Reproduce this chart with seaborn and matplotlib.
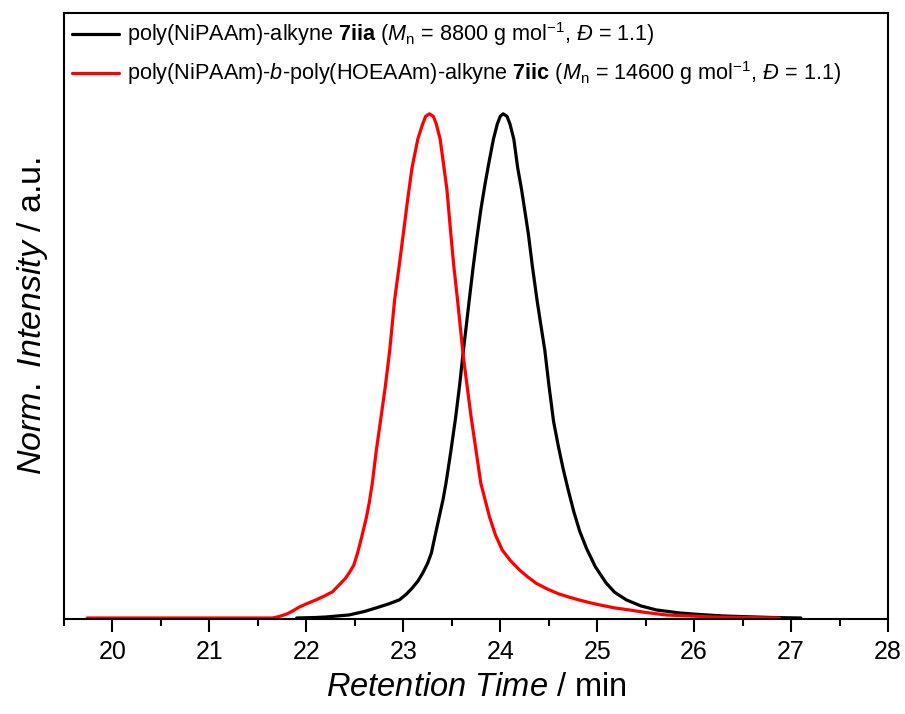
import numpy as np
import pandas as pd
import seaborn as sns
import matplotlib
matplotlib.use("Agg")
import matplotlib.pyplot as plt
from matplotlib.ticker import MultipleLocator

# SEC traces (retention time in min, normalised intensity)
black_time = [21.9, 22.1, 22.2, 22.44, 22.6, 22.72, 22.85, 22.96, 23.03, 23.09,
              23.15, 23.2, 23.25, 23.29, 23.33, 23.37, 23.41, 23.44, 23.49, 23.54,
              23.58, 23.62, 23.65, 23.68, 23.72, 23.76, 23.8, 23.84, 23.88, 23.93,
              23.97, 24.0, 24.03, 24.07, 24.1, 24.14, 24.18, 24.22, 24.29, 24.33,
              24.38, 24.42, 24.46, 24.5, 24.55, 24.6, 24.65, 24.7, 24.76, 24.82,
              24.89, 24.98, 25.09, 25.18, 25.3, 25.45, 25.61, 25.85, 26.05, 26.3,
              26.8, 27.1]
black_int = [0.0, 0.001, 0.002, 0.006, 0.013, 0.02, 0.028, 0.036, 0.047, 0.059,
             0.073, 0.089, 0.108, 0.129, 0.165, 0.2, 0.235, 0.267, 0.33, 0.398,
             0.46, 0.531, 0.58, 0.63, 0.695, 0.755, 0.81, 0.857, 0.9, 0.95,
             0.98, 0.995, 1.0, 0.995, 0.98, 0.95, 0.893, 0.85, 0.762, 0.7,
             0.63, 0.58, 0.531, 0.465, 0.39, 0.34, 0.295, 0.255, 0.21, 0.172,
             0.138, 0.102, 0.07, 0.051, 0.036, 0.024, 0.016, 0.01, 0.007, 0.004,
             0.001, 0.0]

red_time = [19.74, 21.0, 21.65, 21.72, 21.8, 21.86, 21.93, 22.0, 22.1, 22.18,
            22.27, 22.34, 22.4, 22.44, 22.49, 22.53, 22.57, 22.62, 22.65, 22.68,
            22.72, 22.77, 22.815, 22.86, 22.91, 22.955, 23.0, 23.045, 23.09, 23.15,
            23.2, 23.23, 23.27, 23.31, 23.34, 23.38, 23.42, 23.45, 23.49, 23.52,
            23.56, 23.62, 23.7, 23.8, 23.89, 23.95, 24.02, 24.1, 24.2, 24.28,
            24.37, 24.48, 24.6, 24.7, 24.81, 24.93, 25.05, 25.18, 25.33, 25.5,
            25.71, 25.95, 26.2, 26.88]
red_int = [0.0, 0.0, 0.0, 0.003, 0.008, 0.014, 0.022, 0.028, 0.036, 0.043,
           0.052, 0.066, 0.078, 0.089, 0.105, 0.13, 0.16, 0.2, 0.23, 0.267,
           0.33, 0.398, 0.46, 0.531, 0.63, 0.695, 0.762, 0.83, 0.893, 0.95,
           0.98, 0.995, 1.0, 0.995, 0.98, 0.95, 0.893, 0.85, 0.762, 0.7,
           0.63, 0.517, 0.398, 0.267, 0.2, 0.165, 0.135, 0.115, 0.095, 0.082,
           0.069, 0.058, 0.048, 0.042, 0.036, 0.03, 0.025, 0.02, 0.016, 0.011,
           0.006, 0.004, 0.002, 0.0]

black_label = (r"poly(NiPAAm)-alkyne $\mathbf{7iia}$ ($M_\mathrm{n}$ = 8800 g mol$^{-1}$, "
               r"$\mathit{Đ}$ = 1.1)")
red_label = (r"poly(NiPAAm)-$\mathit{b}$-poly(HOEAAm)-alkyne $\mathbf{7iic}$ "
             r"($M_\mathrm{n}$ = 14600 g mol$^{-1}$, $\mathit{Đ}$ = 1.1)")

sns.set_style("white")
plt.rcParams["font.family"] = ["Liberation Sans", "DejaVu Sans"]
plt.rcParams["mathtext.fontset"] = "custom"
plt.rcParams["mathtext.rm"] = "Liberation Sans"
plt.rcParams["mathtext.it"] = "Liberation Sans:italic"
plt.rcParams["mathtext.bf"] = "Liberation Sans:bold"
plt.rcParams["text.color"] = "black"
plt.rcParams["axes.labelcolor"] = "black"
plt.rcParams["xtick.color"] = "black"

df_black = pd.DataFrame({"time": black_time, "intensity": black_int})
df_red = pd.DataFrame({"time": red_time, "intensity": red_int})

fig, ax = plt.subplots(figsize=(9.05, 7.14), dpi=100)
fig.subplots_adjust(left=64 / 905, right=888 / 905, top=1 - 13 / 714, bottom=1 - 619 / 714)

sns.lineplot(data=df_black, x="time", y="intensity", color="black", lw=2.3,
             label=black_label, ax=ax, sort=False)
sns.lineplot(data=df_red, x="time", y="intensity", color="#ff0000", lw=2.3,
             label=red_label, ax=ax, sort=False)

ax.set_xlim(19.5, 28)
ax.set_ylim(-0.002, 1.2)
ax.xaxis.set_major_locator(MultipleLocator(1))
ax.xaxis.set_minor_locator(MultipleLocator(0.5))
ax.set_yticks([])
ax.tick_params(axis="x", which="major", direction="out", length=9, width=1.5,
               labelsize=18, pad=6, bottom=True, top=False, colors="black")
ax.tick_params(axis="x", which="minor", direction="out", length=5, width=1.5,
               bottom=True, top=False, colors="black")
for sp in ax.spines.values():
    sp.set_visible(True)
    sp.set_color("black")
    sp.set_linewidth(1.5)

ax.set_xlabel(r"$\mathit{Retention\ Time}$ / min", fontsize=23.5, labelpad=6)
ax.set_ylabel(r"$\mathit{Norm.\ Intensity}$ / a.u.", fontsize=24.5, labelpad=10)

ax.legend(loc="upper left", frameon=False, fontsize=15.6, handlelength=2.2,
          handletextpad=0.35, borderaxespad=0.1, labelspacing=0.5,
          borderpad=0.25)

fig.savefig("out.png", dpi=100)
